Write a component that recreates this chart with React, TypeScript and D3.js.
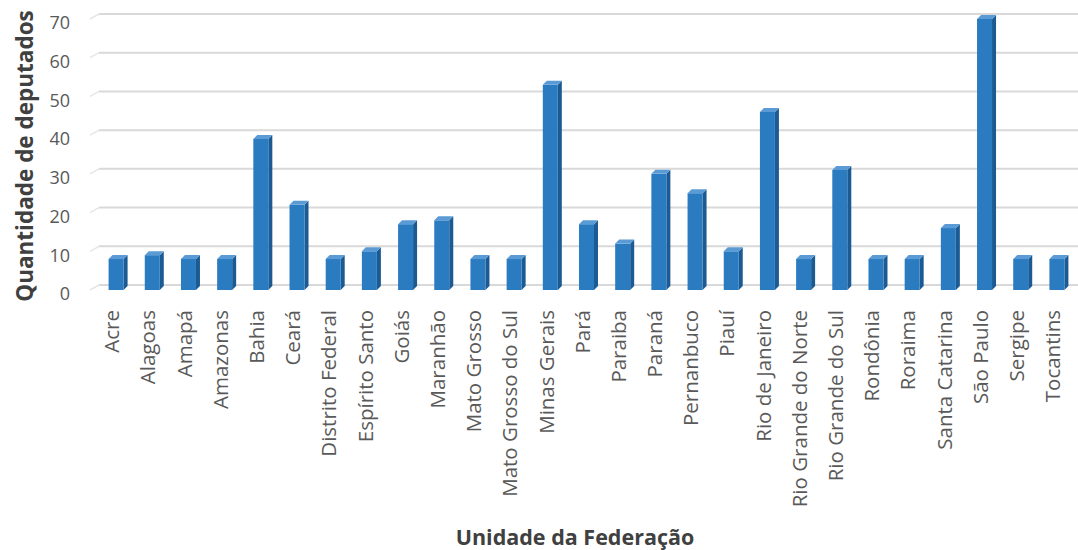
import React, { useEffect, useRef } from "react";
import * as d3 from "d3";

const states = [
  "Acre", "Alagoas", "Amapá", "Amazonas", "Bahia", "Ceará", "Distrito Federal",
  "Espírito Santo", "Goiás", "Maranhão", "Mato Grosso", "Mato Grosso do Sul",
  "Minas Gerais", "Pará", "Paraiba", "Paraná", "Pernanbuco", "Piauí",
  "Rio de Janeiro", "Rio Grande do Norte", "Rio Grande do Sul", "Rondônia",
  "Roraima", "Santa Catarina", "São Paulo", "Sergipe", "Tocantins",
];
const deputies = [
  8, 9, 8, 8, 39, 22, 8, 10, 17, 18, 8, 8, 53, 17, 12, 30, 25, 10, 46, 8, 31,
  8, 8, 16, 70, 8, 8,
];
const yTicks = [0, 10, 20, 30, 40, 50, 60, 70];

export default function App() {
  const svgRef = useRef<SVGSVGElement>(null);

  useEffect(() => {
    if (!svgRef.current) return;
    const svg = d3.select(svgRef.current);
    svg.selectAll("*").remove();

    const font = "'Open Sans', 'Noto Sans', sans-serif";
    const x = d3.scaleBand().domain(states).range([100, 1077]);
    const y = d3.scaleLinear().domain([0, 70]).range([285, 14]);
    const depth = 4;
    const drop = 5;
    const w = 15;
    const mid = (s: string) => x(s)! + x.step() / 2;

    // gridlines
    const grid = svg.append("g");
    yTicks.forEach((t) => {
      grid.append("line")
        .attr("x1", 99).attr("x2", 1078)
        .attr("y1", y(t)).attr("y2", y(t))
        .attr("stroke", "#d9d9d9").attr("stroke-width", 2);
      grid.append("line")
        .attr("x1", 90).attr("x2", 99)
        .attr("y1", y(t) + 5).attr("y2", y(t))
        .attr("stroke", "#e6e6e6").attr("stroke-width", 1.5);
    });

    // y tick labels
    svg.append("g")
      .selectAll("text")
      .data(yTicks)
      .enter()
      .append("text")
      .attr("x", 70)
      .attr("y", (d) => y(d) + 9)
      .attr("dy", "0.35em")
      .attr("text-anchor", "end")
      .attr("fill", "#595959")
      .style("font-family", font)
      .style("font-size", "18px")
      .text((d) => d);

    // 3D bars
    const bars = svg.append("g");
    states.forEach((s, i) => {
      const x0 = mid(s) - (w + depth) / 2;
      const yt = y(deputies[i]) + drop;
      const yb = y(0) + drop;
      bars.append("polygon")
        .attr("points", `${x0 + w},${yt} ${x0 + w + depth},${yt - depth} ${x0 + w + depth},${yb - depth} ${x0 + w},${yb}`)
        .attr("fill", "#1b5a92");
      bars.append("rect")
        .attr("x", x0).attr("y", yt)
        .attr("width", w).attr("height", yb - yt)
        .attr("fill", "#2b7bc1");
      bars.append("polygon")
        .attr("points", `${x0},${yt} ${x0 + depth},${yt - depth} ${x0 + w + depth},${yt - depth} ${x0 + w},${yt}`)
        .attr("fill", "#5a9bd6");
    });

    // x labels
    svg.append("g")
      .selectAll("text")
      .data(states)
      .enter()
      .append("text")
      .attr("transform", (d) => `translate(${mid(d) - 6},310) rotate(-90)`)
      .attr("dy", "0.35em")
      .attr("text-anchor", "end")
      .attr("fill", "#595959")
      .style("font-family", font)
      .style("font-size", "20.5px")
      .text((d) => d);

    // axis titles
    svg.append("text")
      .attr("transform", "translate(25,156) rotate(-90)")
      .attr("dy", "0.35em")
      .attr("text-anchor", "middle")
      .attr("fill", "#404040")
      .style("font-family", font)
      .style("font-size", "22.5px")
      .style("font-weight", "bold")
      .text("Quantidade de deputados");

    svg.append("text")
      .attr("x", 575)
      .attr("y", 537)
      .attr("dy", "0.35em")
      .attr("text-anchor", "middle")
      .attr("fill", "#404040")
      .style("font-family", font)
      .style("font-size", "21.5px")
      .style("font-weight", "bold")
      .text("Unidade da Federação");
  }, []);

  return (
    <svg
      ref={svgRef}
      width={1078}
      height={550}
      style={{ position: "absolute", left: 0, top: 0, background: "#fff" }}
    />
  );
}
